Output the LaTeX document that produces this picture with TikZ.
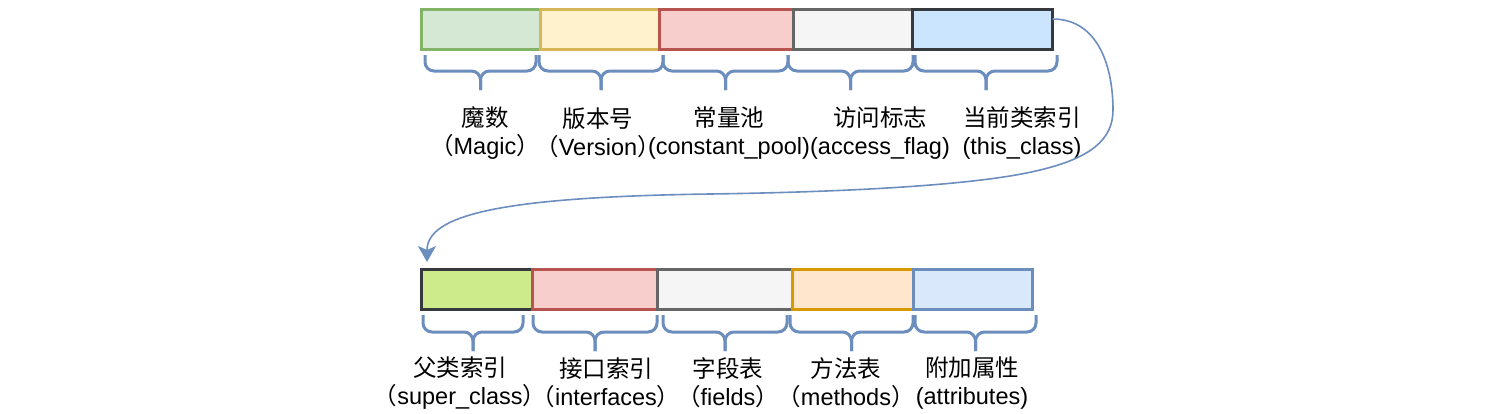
\documentclass[tikz,border=0pt]{standalone}
\usepackage{fontspec}
\setmainfont{Liberation Sans}
\newfontfamily\cjk{Noto Sans CJK SC}
\usetikzlibrary{arrows.meta}
\definecolor{gfill}{HTML}{D5E8D4}\definecolor{gline}{HTML}{82B366}
\definecolor{yfill}{HTML}{FFF2CC}\definecolor{yline}{HTML}{D6B656}
\definecolor{rfill}{HTML}{F8CECC}\definecolor{rline}{HTML}{B85450}
\definecolor{gyfill}{HTML}{F5F5F5}\definecolor{gyline}{HTML}{666666}
\definecolor{bfill}{HTML}{CCE5FF}\definecolor{dline}{HTML}{36393D}
\definecolor{lgfill}{HTML}{CDEB8B}
\definecolor{ofill}{HTML}{FFE6CC}\definecolor{oline}{HTML}{D79B00}
\definecolor{b2fill}{HTML}{DAE8FC}\definecolor{bline}{HTML}{6C8EBF}
\tikzset{
  cell/.style={draw, line width=3pt, minimum height=40pt, inner sep=0pt, outer sep=0pt},
  bracepath/.style={draw=bline, line width=3pt, rounded corners=9pt},
  label/.style={align=center, inner sep=0pt, font=\fontsize{23.5}{28}\selectfont},
  link/.style={draw=bline, line width=1.6pt, -{Stealth[length=16pt,width=18pt,inset=4pt]}}
}
\newcommand\mybrace[4]{% x0 x1 ytop ymid ; tip below
  \path[bracepath] (#1,#3) -- (#1,#4) -- ({(#1+#2)/2},#4) -- ({(#1+#2)/2},#4+19);
  \path[bracepath] (#2,#3) -- (#2,#4) -- ({(#1+#2)/2},#4) -- ({(#1+#2)/2},#4+19);
}
\begin{document}
\begin{tikzpicture}[x=1pt,y=-1pt]
\useasboundingbox (0,0) rectangle (1500,413);
% top row
\node[cell, fill=gfill, draw=gline, minimum width=119pt] (a1) at (480.5,29) {};
\node[cell, fill=yfill, draw=yline, minimum width=119pt] (a2) at (599.5,29) {};
\node[cell, fill=rfill, draw=rline, minimum width=134pt] (a3) at (726,29) {};
\node[cell, fill=gyfill, draw=gyline, minimum width=119pt] (a4) at (852.5,29) {};
\node[cell, fill=bfill, draw=dline, minimum width=140.5pt] (a5) at (982.25,29) {};
% bottom row
\node[cell, fill=lgfill, draw=dline, minimum width=111pt] (c1) at (476.5,289) {};
\node[cell, fill=rfill, draw=rline, minimum width=125pt] (c2) at (594.5,289) {};
\node[cell, fill=gyfill, draw=gyline, minimum width=135pt] (c3) at (724.5,289) {};
\node[cell, fill=ofill, draw=oline, minimum width=121pt] (c4) at (852.5,289) {};
\node[cell, fill=b2fill, draw=bline, minimum width=119pt] (c5) at (972.5,289) {};
% braces
\mybrace{425}{536}{55}{71}
\mybrace{539}{663}{55}{71}
\mybrace{663}{788}{55}{71}
\mybrace{788}{913}{55}{71}
\mybrace{915}{1057}{55}{71}
\mybrace{423}{523}{315}{332}
\mybrace{533}{657}{315}{332}
\mybrace{663}{787}{315}{332}
\mybrace{790}{913}{315}{332}
\mybrace{915}{1036}{315}{332}
% labels
\node[label] (ta1) at (485,133) {{\cjk 魔数}\\{\cjk （}Magic{\cjk ）}};
\node[label] (ta2) at (598,133) {{\cjk 版本号}\\{\cjk （}Version{\cjk ）}};
\node[label] (ta3) at (729,133) {{\cjk 常量池}\\(constant\_pool)};
\node[label] (ta4) at (880,133) {{\cjk 访问标志}\\(access\_flag)};
\node[label] (ta5) at (1022,133) {{\cjk 当前类索引}\\(this\_class)};
\node[label] (tc1) at (460,383) {{\cjk 父类索引}\\{\cjk （}super\_class{\cjk ）}};
\node[label] (tc2) at (606,383) {{\cjk 接口索引}\\{\cjk （}interfaces{\cjk ）}};
\node[label] (tc3) at (728,383) {{\cjk 字段表}\\{\cjk （}fields{\cjk ）}};
\node[label] (tc4) at (846,383) {{\cjk 方法表}\\{\cjk （}methods{\cjk ）}};
\node[label] (tc5) at (972,383) {{\cjk 附加属性}\\(attributes)};
% connector
\draw[link] ([yshift=10pt]a5.east) .. controls (1100,19) and (1113,70) .. (1113,110)
  .. controls (1113,140) and (1090,158) .. (1040,170)
  .. controls (980,185) and (850,192) .. (710,194)
  .. controls (500,197) and (427,215) .. ([xshift=-49.5pt,yshift=7pt]c1.north);
\end{tikzpicture}
\end{document}
